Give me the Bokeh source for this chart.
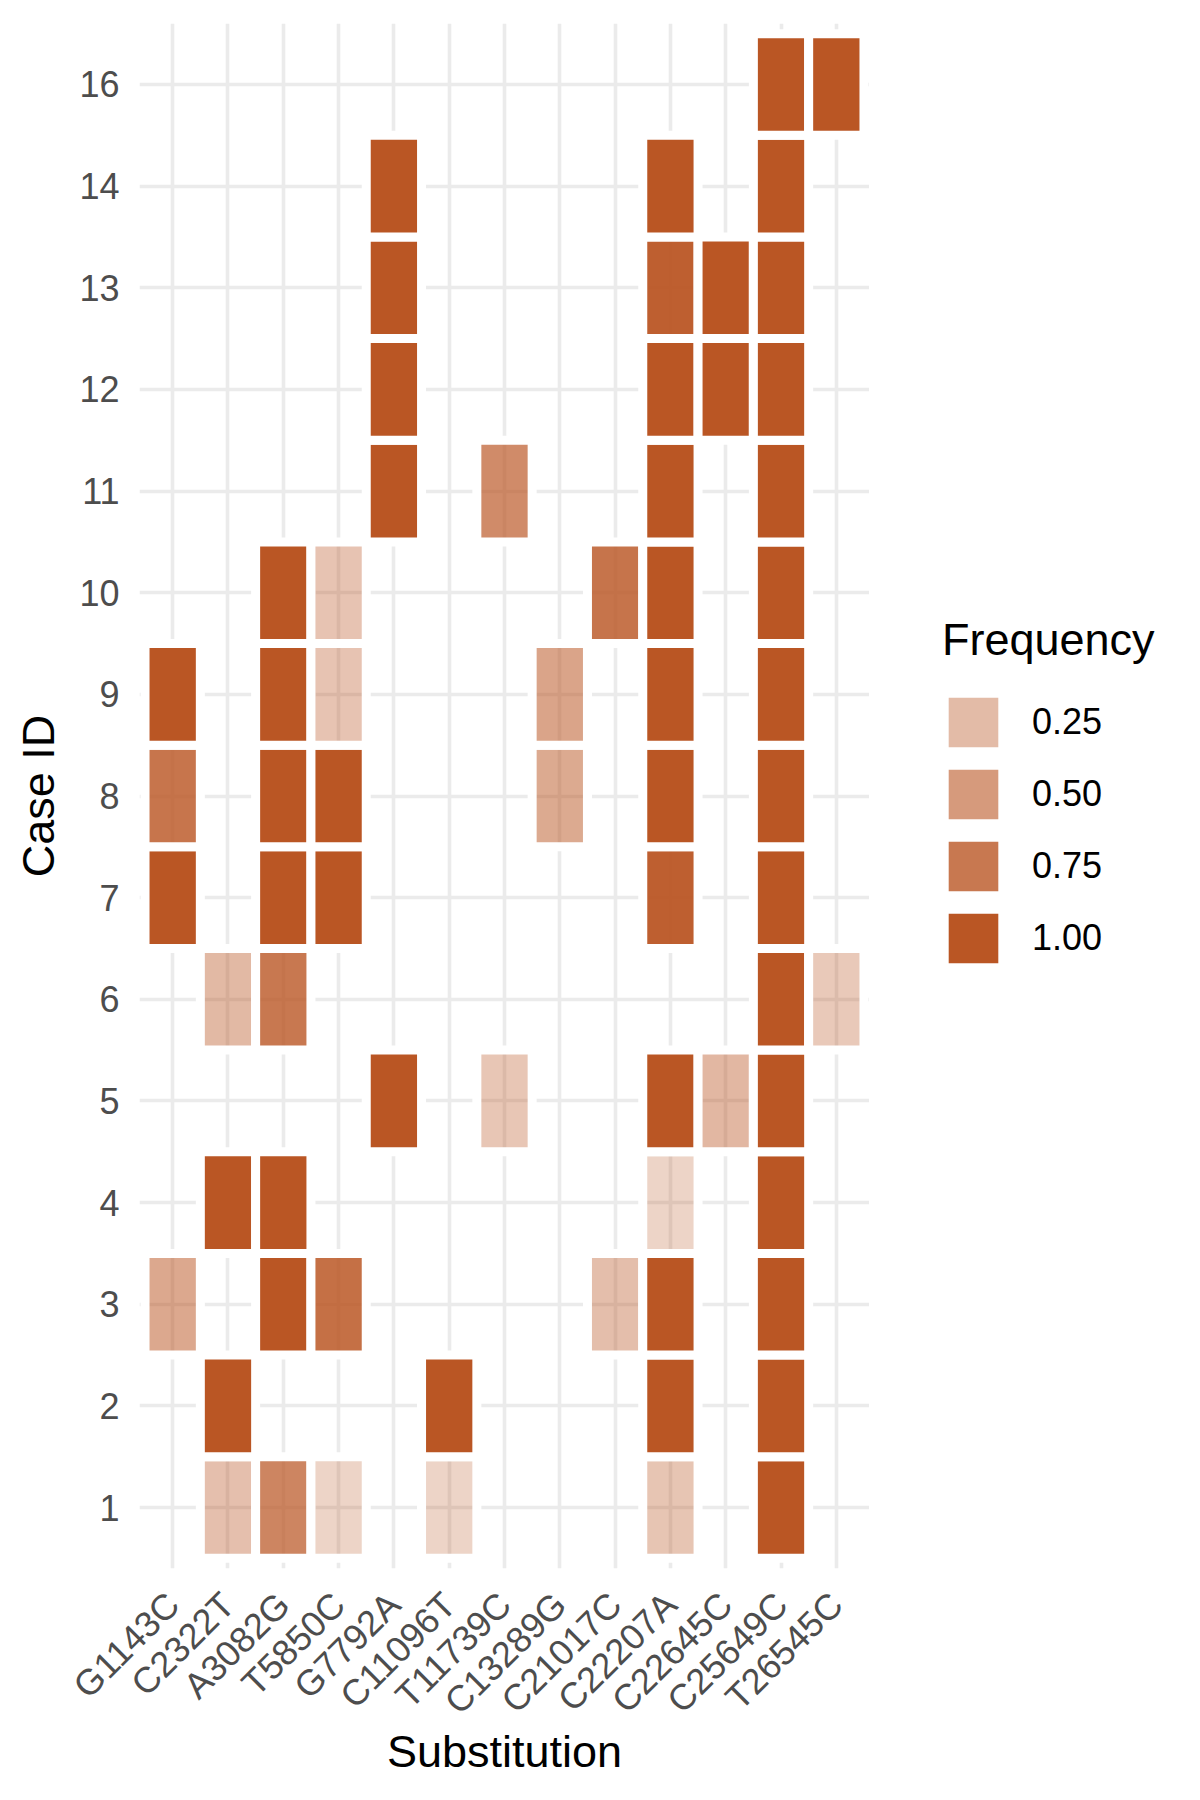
from bokeh.plotting import figure
from bokeh.models import FactorRange, ColumnDataSource, Legend, LegendItem
from bokeh.layouts import row
from bokeh.embed import file_html
from bokeh.resources import INLINE
import math

# ---- data ----
substitutions = ["G1143C", "C2322T", "A3082G", "T5850C", "G7792A", "C11096T",
                 "T11739C", "C13289G", "C21017C", "C22207A", "C22645C",
                 "C25649C", "T26545C"]
case_ids = ["1", "2", "3", "4", "5", "6", "7", "8", "9", "10", "11", "12",
            "13", "14", "16"]

tile_case = (["1"] * 6 + ["2"] * 4 + ["3"] * 6 + ["4"] * 4 + ["5"] * 5 +
             ["6"] * 4 + ["7"] * 5 + ["8"] * 6 + ["9"] * 6 + ["10"] * 5 +
             ["11"] * 4 + ["12"] * 4 + ["13"] * 4 + ["14"] * 3 + ["16"] * 2)
tile_sub = [
    "C2322T", "A3082G", "T5850C", "C11096T", "C22207A", "C25649C",            # 1
    "C2322T", "C11096T", "C22207A", "C25649C",                                # 2
    "G1143C", "A3082G", "T5850C", "C21017C", "C22207A", "C25649C",            # 3
    "C2322T", "A3082G", "C22207A", "C25649C",                                 # 4
    "G7792A", "T11739C", "C22207A", "C22645C", "C25649C",                     # 5
    "C2322T", "A3082G", "C25649C", "T26545C",                                 # 6
    "G1143C", "A3082G", "T5850C", "C22207A", "C25649C",                       # 7
    "G1143C", "A3082G", "T5850C", "C13289G", "C22207A", "C25649C",            # 8
    "G1143C", "A3082G", "T5850C", "C13289G", "C22207A", "C25649C",            # 9
    "A3082G", "T5850C", "C21017C", "C22207A", "C25649C",                      # 10
    "G7792A", "T11739C", "C22207A", "C25649C",                                # 11
    "G7792A", "C22207A", "C22645C", "C25649C",                                # 12
    "G7792A", "C22207A", "C22645C", "C25649C",                                # 13
    "G7792A", "C22207A", "C25649C",                                           # 14
    "C25649C", "T26545C",                                                     # 16
]
tile_freq = [
    0.22, 0.65, 0.07, 0.07, 0.18, 1.00,
    1.00, 1.00, 1.00, 1.00,
    0.39, 1.00, 0.81, 0.23, 1.00, 1.00,
    1.00, 1.00, 0.07, 1.00,
    1.00, 0.17, 1.00, 0.28, 1.00,
    0.27, 0.75, 1.00, 0.15,
    1.00, 1.00, 1.00, 0.93, 1.00,
    0.77, 1.00, 1.00, 0.38, 1.00, 1.00,
    1.00, 1.00, 0.19, 0.42, 1.00, 1.00,
    1.00, 0.19, 0.78, 1.00, 1.00,
    1.00, 0.61, 1.00, 1.00,
    1.00, 1.00, 1.00, 1.00,
    1.00, 0.93, 1.00, 1.00,
    1.00, 1.00, 1.00,
    1.00, 1.00,
]
legend_breaks = [0.25, 0.50, 0.75, 1.00]
legend_labels = ["0.25", "0.50", "0.75", "1.00"]

# ---- style ----
BASE = "#BA5624"
ALPHA_LO = 0.2
FONT = "Liberation Sans"


def to_alpha(f):
    return ALPHA_LO + (1 - ALPHA_LO) * f


src = ColumnDataSource(dict(sub=tile_sub, case=tile_case,
                            freq=tile_freq,
                            alpha=[to_alpha(f) for f in tile_freq]))

x_range = FactorRange(factors=substitutions, range_padding=0.1,
                      range_padding_units="absolute")
y_range = FactorRange(factors=case_ids, range_padding=0.1,
                      range_padding_units="absolute")

p = figure(width=869, height=1800, x_range=x_range, y_range=y_range,
           output_backend="svg", toolbar_location=None,
           min_border_left=139, min_border_right=0,
           min_border_top=23, min_border_bottom=232)
p.outline_line_color = None
p.background_fill_color = "white"
p.border_fill_color = "white"

p.rect(x="sub", y="case", width=1, height=1, source=src,
       fill_color=BASE, fill_alpha="alpha",
       line_color="white", line_width=9, line_alpha=1.0)

# grids
for g in (p.xgrid, p.ygrid):
    g.grid_line_color = "#EBEBEB"
    g.grid_line_width = 3.6

# axes
for ax in (p.xaxis, p.yaxis):
    ax.axis_line_color = None
    ax.major_tick_line_color = None
    ax.minor_tick_line_color = None
    ax.major_tick_out = 0
    ax.major_tick_in = 0
    ax.major_label_text_font = FONT
    ax.major_label_text_font_size = "36px"
    ax.major_label_text_color = "#4D4D4D"
    ax.axis_label_text_font = FONT
    ax.axis_label_text_font_size = "45px"
    ax.axis_label_text_font_style = "normal"
    ax.axis_label_text_color = "black"

p.xaxis.axis_label = "Substitution"
p.yaxis.axis_label = "Case ID"
p.yaxis.major_label_standoff = 20
p.yaxis.axis_label_standoff = 12
p.xaxis.major_label_orientation = math.pi / 4
p.xaxis.major_label_standoff = 30
p.xaxis.axis_label_standoff = -13

# legend in a side figure (frame aligned with the main plot's frame)
pl = figure(width=331, height=1800, output_backend="svg",
            toolbar_location=None, x_axis_location=None,
            y_axis_location=None, min_border=0)
pl.outline_line_color = None
pl.grid.visible = False
pl.background_fill_color = "white"
pl.border_fill_color = "white"

items = []
for br, lab in zip(legend_breaks, legend_labels):
    # zero-size key marks: only their legend swatch is seen
    r = pl.rect(x=[br], y=[br], width=0, height=0, fill_color=BASE,
                fill_alpha=to_alpha(br), line_color=None)
    items.append(LegendItem(label=lab, renderers=[r]))

legend = Legend(items=items, location=(73, 599), title="Frequency",
                orientation="vertical")
legend.title_text_font = FONT
legend.title_text_font_size = "45px"
legend.title_text_font_style = "normal"
legend.title_text_color = "black"
legend.title_standoff = 25
legend.label_text_font = FONT
legend.label_text_font_size = "36px"
legend.label_text_color = "black"
legend.glyph_width = 62
legend.glyph_height = 62
legend.label_height = 62
legend.spacing = 10
legend.label_standoff = 28
legend.padding = 0
legend.margin = 0
legend.border_line_color = None
legend.background_fill_alpha = 0
pl.add_layout(legend, "center")

layout = row(p, pl, spacing=0)
html = file_html(layout, INLINE)
open("out.html", "w").write(html)
